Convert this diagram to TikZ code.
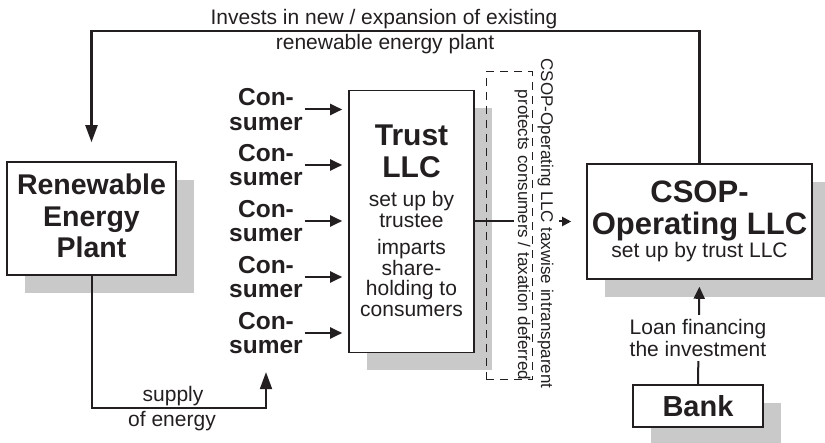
\documentclass[tikz,border=0pt]{standalone}
\usepackage{fontspec}
\setmainfont{Liberation Sans}
\usetikzlibrary{arrows.meta}
\definecolor{shadowgray}{gray}{0.79}
\definecolor{ink}{HTML}{231F20}
\begin{document}
\begin{tikzpicture}[x=1pt,y=-1pt,
  every node/.style={text=ink},
  box/.style={draw=ink, line width=1.6pt, fill=white, inner sep=0pt,
    preaction={fill=shadowgray, draw=none, transform canvas={shift={(18pt,-18pt)}}}},
  cons/.style={align=center, inner xsep=2pt, inner ysep=1pt,
    font=\bfseries\fontsize{24.5}{24.5}\selectfont},
  lbl/.style={font=\fontsize{21}{22}\selectfont, inner sep=0pt},
  txt/.style={font=\fontsize{21}{22}\selectfont, inner sep=0pt, anchor=base},
  bold/.style={font=\bfseries\fontsize{#1}{#1}\selectfont, inner sep=0pt, anchor=base},
  rot/.style={font=\fontsize{17}{17}\selectfont, inner sep=0pt, rotate=-90, anchor=base},
  conn/.style={draw=ink, line width=2pt},
  arr/.style={-{Triangle[length=12pt,width=11pt]}},
  bigarr/.style={-{Triangle[length=17pt,width=12pt]}},
  dbox/.style={draw=ink, dashed, dash pattern=on 8pt off 6pt, line width=1pt, inner sep=0pt}
]
\useasboundingbox (0,0) rectangle (825,443);

% boxes
\node[box, minimum width=169pt, minimum height=113pt] (rep) at (91.5,218.5) {};
\node[box, minimum width=125pt, minimum height=262pt] (trust) at (411.5,221.5) {};
\node[box, minimum width=225pt, minimum height=115pt] (csop) at (699.5,221.5) {};
\node[box, minimum width=130pt, minimum height=42pt] (bank) at (698,406) {};

% box texts
\node[bold=28.5] (rep1) at (91.5,195) {Renewable};
\node[bold=28.5] (rep2) at (91.5,226.5) {Energy};
\node[bold=28.5] (rep3) at (91.5,258) {Plant};

\node[bold=30] (tr1) at (411.5,145.5) {Trust};
\node[bold=30] (tr2) at (411.5,177.5) {LLC};
\node[txt] (tr3) at (411.5,207) {set up by};
\node[txt] (tr4) at (411.5,227.5) {trustee};
\node[txt] (tr5) at (411.5,255) {imparts};
\node[txt] (tr6) at (411.5,275.5) {share-};
\node[txt] (tr7) at (411.5,296) {holding to};
\node[txt] (tr8) at (411.5,316.5) {consumers};

\node[bold=31] (cs1) at (699.5,203) {CSOP-};
\node[bold=31] (cs2) at (699.5,235) {Operating LLC};
\node[txt] (cs3) at (699.5,257.5) {set up by trust LLC};

\node[bold=29] (bk) at (698,417) {Bank};

% dashed frame
\node[dbox, minimum width=46pt, minimum height=308pt] (frame) at (509,226) {};

% consumers
\node[cons] (c1) at (266,109.5) {Con-\\sumer};
\node[cons] (c2) at (266,165) {Con-\\sumer};
\node[cons] (c3) at (266,221) {Con-\\sumer};
\node[cons] (c4) at (266,277) {Con-\\sumer};
\node[cons] (c5) at (266,333) {Con-\\sumer};
\foreach \c in {c1,c2,c3,c4,c5}{
  \draw[conn, arr, shorten >=6pt] (\c.east) -- (trust.west |- \c.east);
}

% supply of energy
\coordinate (supmid) at (180,408);
\draw[conn, bigarr, shorten >=17pt] (rep.south) |- (supmid) -| (c5.south);
\node[txt] (sup1) at (173,402) {supply};
\node[txt] (sup2) at (172,427) {of energy};

% invests loop
\coordinate (topmid) at (400,31);
\draw[conn, line width=2.2pt, bigarr, shorten >=19pt] (csop.north) |- (topmid) -| (rep.north);
\node[txt] (inv1) at (384,25) {Invests in new / expansion of existing};
\node[txt] (inv2) at (385,50) {renewable energy plant};

% trust -> csop
\coordinate (cutA) at (514,221.5);
\coordinate (cutB) at (559,221.5);
\draw[conn] (trust.east) -- (cutA);
\draw[conn, -{Triangle[length=9pt,width=9pt]}, shorten >=15pt] (cutB) -- (csop.west);
\node[rot] (tx1) at (541,223.5) {CSOP-Operating LLC taxwise intransparent};
\node[rot] (tx2) at (518,235) {protects consumers / taxation deferred};

% bank -> csop
\draw[conn, arr, shorten >=7pt] (bank.north) -- (csop.south);
\node[lbl, align=center, fill=white, inner xsep=2pt, inner ysep=4pt] (loan) at (698,338)
  {Loan financing\\the investment};
\end{tikzpicture}
\end{document}
